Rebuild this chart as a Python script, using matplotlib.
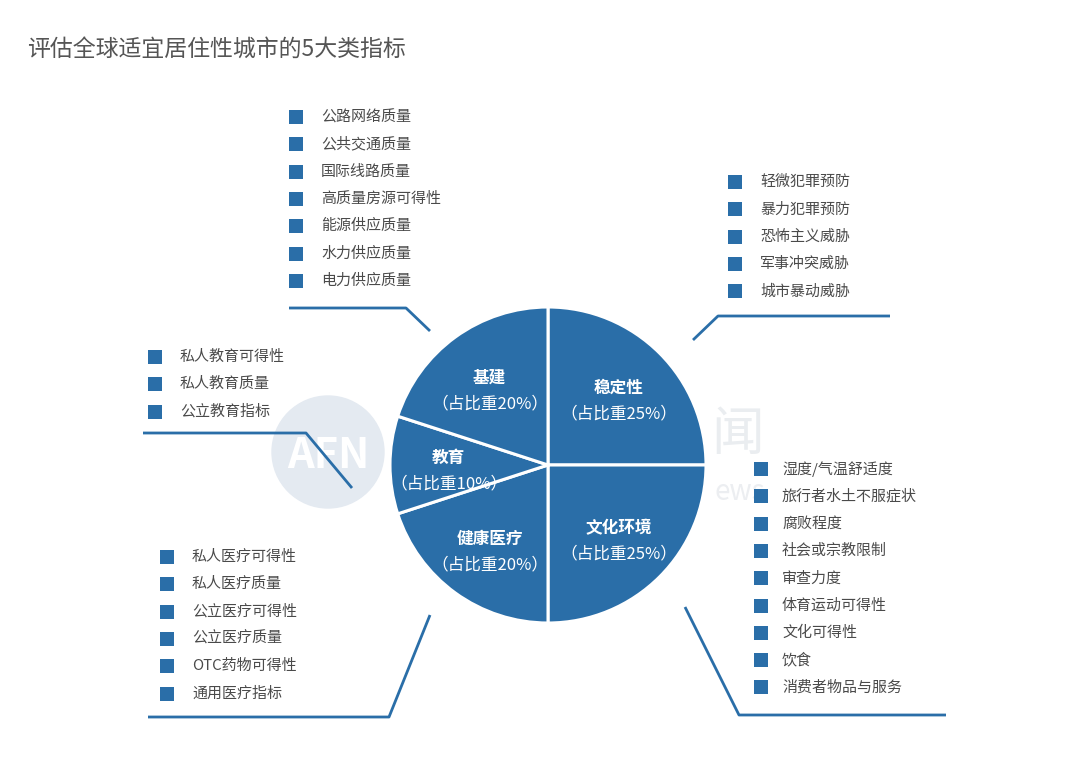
import numpy as np
import matplotlib
matplotlib.use('Agg')
import matplotlib.pyplot as plt

plt.rcParams['font.family'] = ['Noto Sans CJK SC', 'DejaVu Sans']

title = '评估全球适宜居住性城市的5大类指标'

# pie slices, clockwise from 12 o'clock
categories = ['稳定性', '文化环境', '健康医疗', '教育', '基建']
weights = [25, 25, 20, 10, 20]

# indicator lists for each category
items_infra = ['公路网络质量', '公共交通质量', '国际线路质量', '高质量房源可得性',
               '能源供应质量', '水力供应质量', '电力供应质量']
items_stability = ['轻微犯罪预防', '暴力犯罪预防', '恐怖主义威胁', '军事冲突威胁', '城市暴动威胁']
items_education = ['私人教育可得性', '私人教育质量', '公立教育指标']
items_culture = ['湿度/气温舒适度', '旅行者水土不服症状', '腐败程度', '社会或宗教限制', '审查力度',
                 '体育运动可得性', '文化可得性', '饮食', '消费者物品与服务']
items_health = ['私人医疗可得性', '私人医疗质量', '公立医疗可得性', '公立医疗质量',
                'OTC药物可得性', '通用医疗指标']

blue = '#2a6ea8'
text_col = '#4a4a4a'

fig = plt.figure(figsize=(10.8, 7.64), dpi=100)
ax = fig.add_axes([0, 0, 1, 1])

# faint watermark behind everything
ax.add_patch(plt.Circle((328, 452), 56, color='#e4eaf1', zorder=0))
ax.text(328, 456, 'AFN', color='white', fontsize=30, fontweight='bold',
        ha='center', va='center', zorder=0.5)
ax.text(738, 435, '闻', color='#eaedf0', fontsize=38, ha='center', va='center', zorder=0)
ax.text(740, 492, 'ews', color='#eceef1', fontsize=20, ha='center', va='center', zorder=0)

# pie (y axis is inverted, so counterclock in data = clockwise on screen)
cx, cy, R = 548, 465, 158
wedges, _ = ax.pie(weights, startangle=-90, counterclock=True, center=(cx, cy), radius=R,
                   colors=[blue] * len(weights), frame=True,
                   wedgeprops=dict(edgecolor='white', linewidth=2.2))
for w, name, pct in zip(wedges, categories, weights):
    mid = np.deg2rad((w.theta1 + w.theta2) / 2)
    lx = cx + 0.63 * R * np.cos(mid)
    ly = cy + 0.63 * R * np.sin(mid) + 6
    ax.text(lx, ly - 13, name, color='white', fontsize=12, fontweight='bold',
            ha='center', va='center')
    ax.text(lx, ly + 13, '（占比重%d%%）' % pct, color='white', fontsize=12,
            ha='center', va='center')


def item_list(items, sq_x, text_x, y0, step=27.3):
    ys = y0 + step * np.arange(len(items))
    ax.scatter([sq_x] * len(items), ys, marker='s', s=105, color=blue, linewidths=0, zorder=3)
    for y, t in zip(ys, items):
        ax.text(text_x, y, t, color=text_col, fontsize=10.8, ha='left', va='center')


item_list(items_infra, 296, 321, 117)
item_list(items_stability, 735, 760, 182)
item_list(items_education, 155, 180, 357)
item_list(items_culture, 761, 782, 469)
item_list(items_health, 167, 192, 557)

# connector lines
lines = [
    ([289, 406, 430], [308, 308, 331]),
    ([143, 306, 352], [433, 433, 488]),
    ([693, 718, 890], [340, 316, 316]),
    ([685, 739, 946], [607, 715, 715]),
    ([148, 389, 430], [717, 717, 615]),
]
for xs, ys in lines:
    ax.plot(xs, ys, color=blue, linewidth=2, solid_capstyle='butt')

ax.text(27, 50, title, color='#555555', fontsize=16.5, ha='left', va='center')

ax.set_xlim(0, 1080)
ax.set_ylim(764, 0)
ax.set_aspect('equal')
ax.axis('off')

plt.savefig('out.png', dpi=100)
